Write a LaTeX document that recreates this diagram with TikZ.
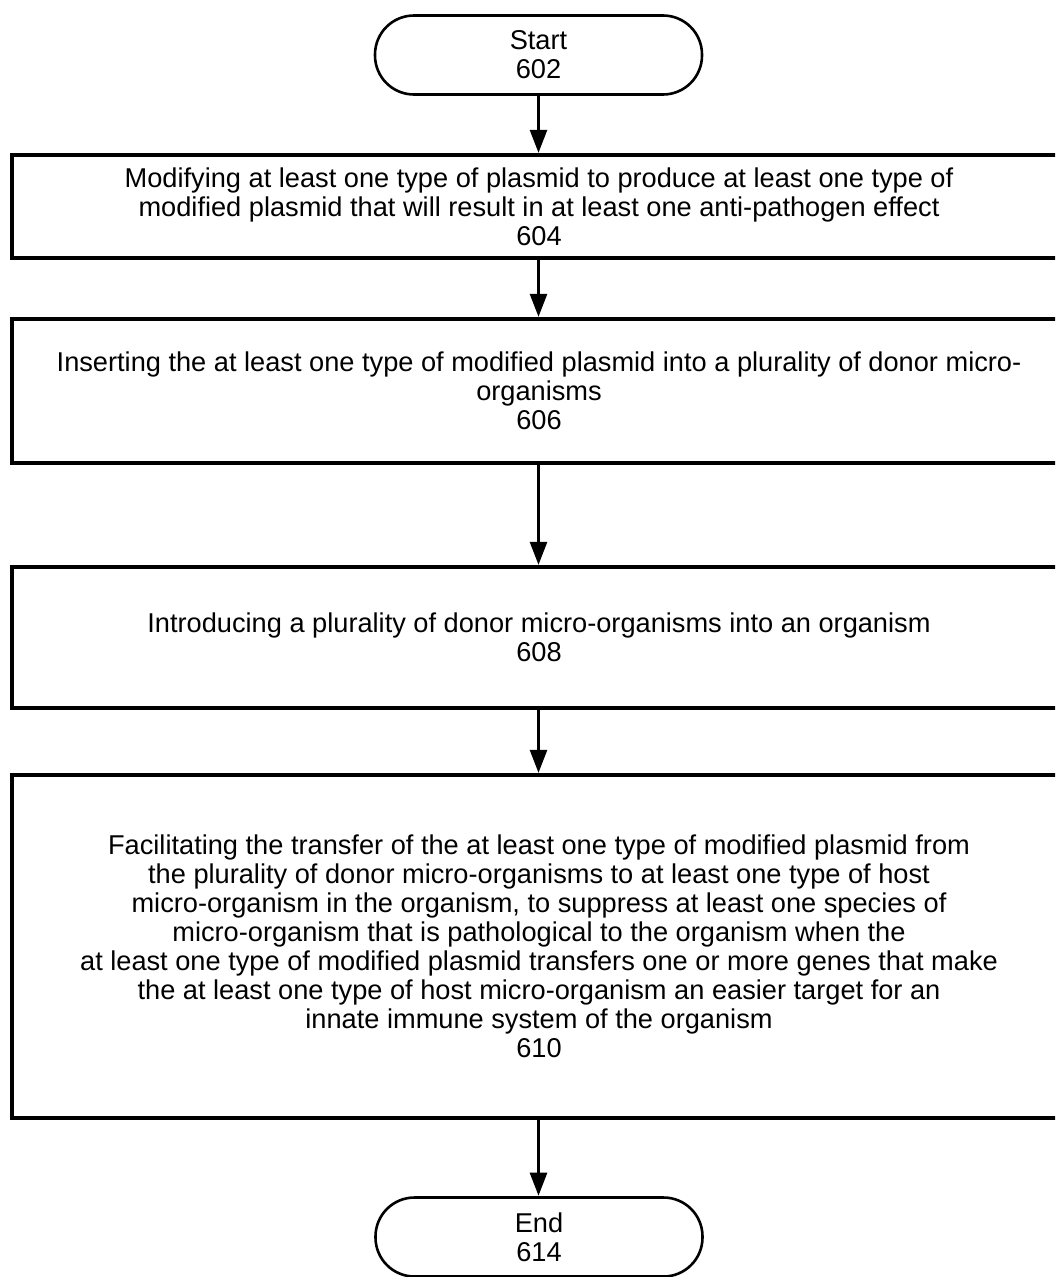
\documentclass[tikz,border=0pt]{standalone}
\usepackage{fontspec}
\setmainfont{Liberation Sans}
\usetikzlibrary{arrows.meta}
\tikzset{
  terminal/.style={draw, line width=2.6pt, rounded corners=39pt, minimum width=327pt,
    minimum height=79pt, inner sep=0pt, align=center},
  stepbox/.style={draw, line width=3.3pt, minimum width=1054pt, inner sep=0pt, align=center},
  flow/.style={line width=2.6pt, -{Triangle[length=23pt,width=17pt]}, shorten >=0.5pt}
}
\begin{document}
\begin{tikzpicture}[x=1pt,y=-1pt,font=\fontsize{27.2}{29}\selectfont]
\clip (0,0) rectangle (1055,1277);
\fill[white] (0,0) rectangle (1055,1277);

\node[terminal] (start) at (538.5,55) {Start\\602};
\node[stepbox, minimum height=103pt] (s604) at (539,206.5)
  {Modifying at least one type of plasmid to produce at least one type of\\
   modified plasmid that will result in at least one anti-pathogen effect\\604};
\node[stepbox, minimum height=144pt] (s606) at (539,391)
  {Inserting the at least one type of modified plasmid into a plurality of donor micro-\\
   organisms\\606};
\node[stepbox, minimum height=141pt] (s608) at (539,637.5)
  {Introducing a plurality of donor micro-organisms into an organism\\608};
\node[stepbox, minimum height=343pt] (s610) at (539,946.5)
  {Facilitating the transfer of the at least one type of modified plasmid from\\
   the plurality of donor micro-organisms to at least one type of host\\
   micro-organism in the organism, to suppress at least one species of\\
   micro-organism that is pathological to the organism when the\\
   at least one type of modified plasmid transfers one or more genes that make\\
   the at least one type of host micro-organism an easier target for an\\
   innate immune system of the organism\\610};
\node[terminal] (end) at (539,1237) {End\\614};

\draw[flow] (start.south) -- (start.south |- s604.north);
\draw[flow] (s604.south -| start.south) -- (start.south |- s606.north);
\draw[flow] (s606.south -| start.south) -- (start.south |- s608.north);
\draw[flow] (s608.south -| start.south) -- (start.south |- s610.north);
\draw[flow] (s610.south -| start.south) -- (start.south |- end.north);
\end{tikzpicture}
\end{document}
